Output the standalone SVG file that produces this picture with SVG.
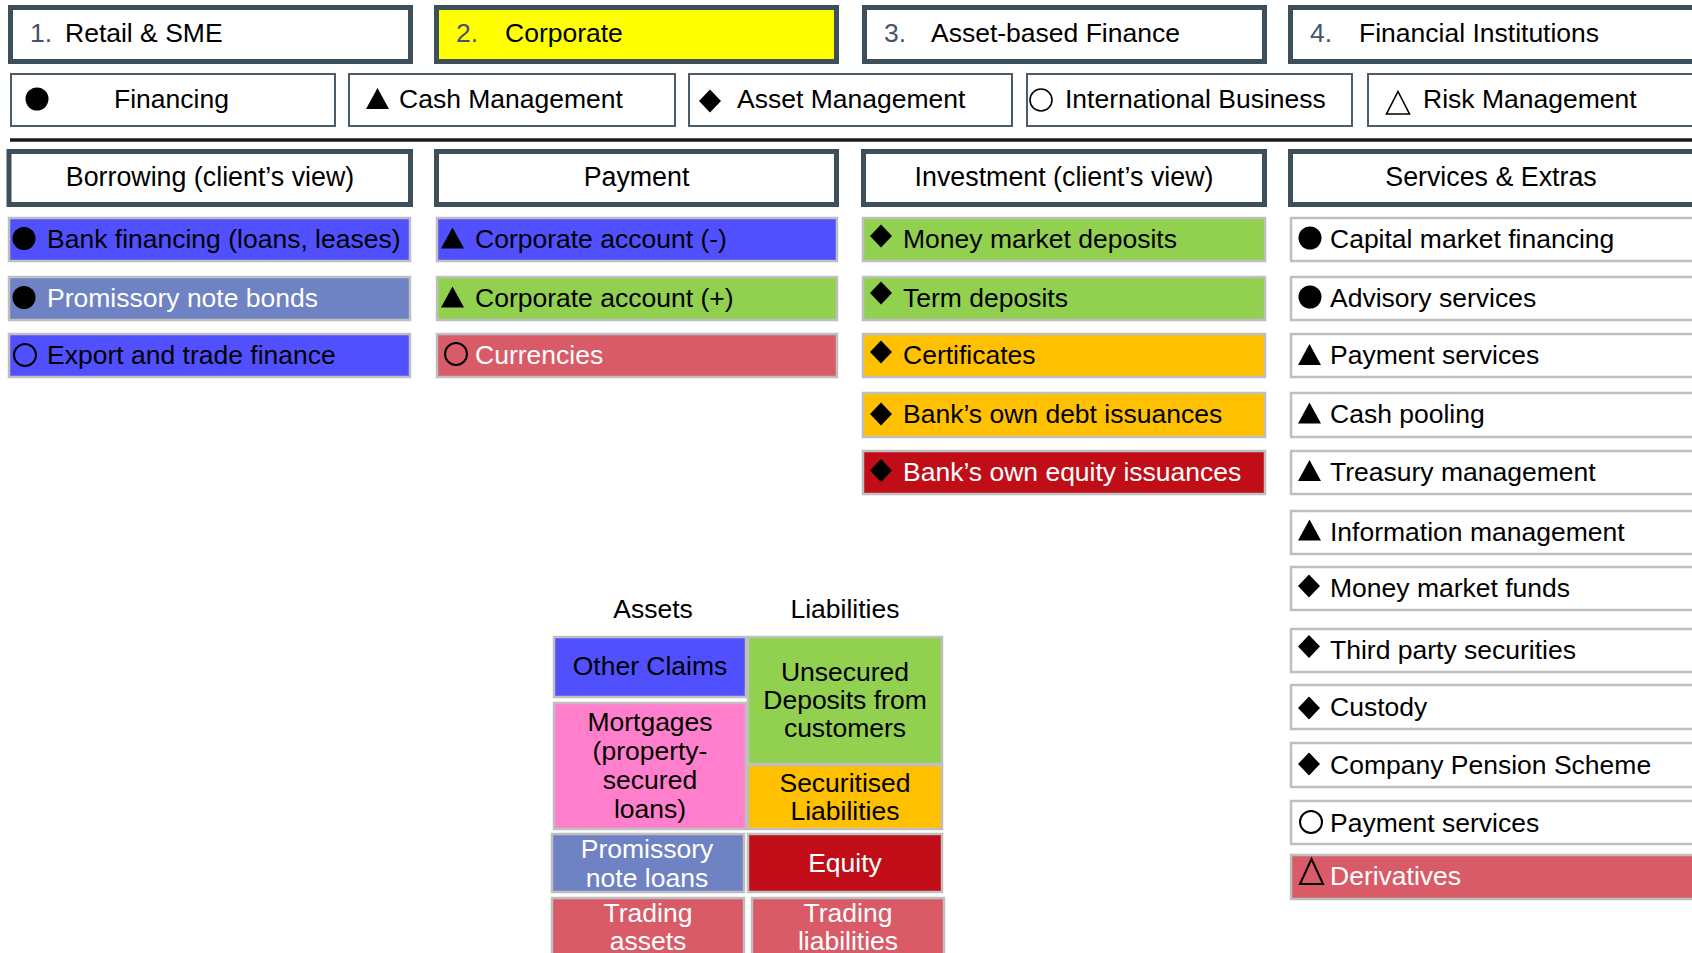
<svg xmlns="http://www.w3.org/2000/svg" width="1692" height="953" viewBox="0 0 1692 953">
  <style>
    text { font-family: "Liberation Sans", Arial, sans-serif; font-size: 26.5px; fill: #000; }
    .c { text-anchor: middle; }
    .num { fill: #44546a; }
    .w { fill: #fff; }
    .hdr { fill: #fff; stroke: #3e4f5c; stroke-width: 5; }
    .hdr-t { font-size: 26.8px; }
    .leg { fill: #fff; stroke: #4b5b69; stroke-width: 2; }
    .item { stroke: #bfbfbf; stroke-width: 2.5; }
    .white { fill: #fff; }
    .blue { fill: #5050ff; }
    .slate { fill: #6e82c4; }
    .green { fill: #92d050; }
    .amber { fill: #ffc000; }
    .crimson { fill: #c00d17; }
    .rose { fill: #d95b67; }
    .pink { fill: #ff7fcc; }
    .yellow { fill: #ffff00; }
  </style>
  <defs>
    <!-- category markers, centred on 0,0 -->
    <circle id="dot" r="11.5" fill="#000"/>
    <polygon id="tri" points="0,-10.5 11.5,10.5 -11.5,10.5" fill="#000"/>
    <polygon id="dia" points="0,-11.5 11,0 0,11.5 -11,0" fill="#000"/>
    <circle id="ring" r="11" fill="none" stroke="#000" stroke-width="2"/>
    <polygon id="otri" points="0,-12.5 11.5,12.5 -11.5,12.5" fill="none" stroke="#000" stroke-width="2"/>
  </defs>

  <rect width="1692" height="953" fill="#fff"/>

  <!-- client segments -->
  <g id="seg-retail">
    <rect class="hdr" x="10.5" y="7.5" width="400" height="54"/>
    <text class="num" x="30" y="42">1.</text>
    <text x="65" y="42">Retail &amp; SME</text>
  </g>
  <g id="seg-corporate">
    <rect class="hdr yellow" x="436.5" y="7.5" width="400" height="54"/>
    <text class="num" x="456" y="42">2.</text>
    <text x="505" y="42">Corporate</text>
  </g>
  <g id="seg-asset-based">
    <rect class="hdr" x="864.5" y="7.5" width="400" height="54"/>
    <text class="num" x="884" y="42">3.</text>
    <text x="931" y="42">Asset-based Finance</text>
  </g>
  <g id="seg-fi">
    <rect class="hdr" x="1290.5" y="7.5" width="420" height="54"/>
    <text class="num" x="1310" y="42">4.</text>
    <text x="1359" y="42">Financial Institutions</text>
  </g>

  <!-- legend of categories -->
  <g id="leg-financing">
    <rect class="leg" x="11" y="74" width="324" height="52"/>
    <use href="#dot" x="37" y="99"/>
    <text x="114" y="108">Financing</text>
  </g>
  <g id="leg-cash">
    <rect class="leg" x="349" y="74" width="326" height="52"/>
    <use href="#tri" x="377.5" y="98.5"/>
    <text x="399" y="108">Cash Management</text>
  </g>
  <g id="leg-asset">
    <rect class="leg" x="689" y="74" width="323" height="52"/>
    <use href="#dia" x="710" y="101"/>
    <text x="737" y="108">Asset Management</text>
  </g>
  <g id="leg-intl">
    <rect class="leg" x="1027" y="74" width="325" height="52"/>
    <circle cx="1041" cy="100" r="11" fill="none" stroke="#000" stroke-width="1.6"/>
    <text x="1065" y="108">International Business</text>
  </g>
  <g id="leg-risk">
    <rect class="leg" x="1368" y="74" width="340" height="52"/>
    <polygon points="1398,91.5 1409.5,114 1386.5,114" fill="none" stroke="#000" stroke-width="1.6"/>
    <text x="1423" y="108">Risk Management</text>
  </g>

  <g id="rule">
    <line x1="10" y1="140" x2="1692" y2="140" stroke="#1a1a1a" stroke-width="3.5"/>
  </g>

  <!-- column headers -->
  <g id="col-borrowing">
    <rect class="hdr" x="9" y="151.5" width="401.5" height="53"/>
    <text class="c hdr-t" x="210" y="186">Borrowing (client’s view)</text>
  </g>
  <g id="col-payment">
    <rect class="hdr" x="436.5" y="151.5" width="400" height="53"/>
    <text class="c hdr-t" x="636.5" y="186">Payment</text>
  </g>
  <g id="col-investment">
    <rect class="hdr" x="863.5" y="151.5" width="401" height="53"/>
    <text class="c hdr-t" x="1064" y="186">Investment (client’s view)</text>
  </g>
  <g id="col-services">
    <rect class="hdr" x="1290.5" y="151.5" width="420" height="53"/>
    <text class="c hdr-t" x="1491" y="186">Services &amp; Extras</text>
  </g>

  <!-- borrowing products -->
  <g id="b-bank-financing">
    <rect class="item blue" x="9" y="218" width="401" height="43"/>
    <use href="#dot" x="24" y="238.5"/>
    <text x="47" y="248">Bank financing (loans, leases)</text>
  </g>
  <g id="b-promissory">
    <rect class="item slate" x="9" y="277" width="401" height="43"/>
    <use href="#dot" x="24" y="297.5"/>
    <text class="w" x="47" y="307">Promissory note bonds</text>
  </g>
  <g id="b-export">
    <rect class="item blue" x="9" y="334" width="401" height="43"/>
    <use href="#ring" x="25" y="355"/>
    <text x="47" y="364">Export and trade finance</text>
  </g>

  <!-- payment products -->
  <g id="p-account-neg">
    <rect class="item blue" x="437" y="218" width="400" height="43"/>
    <use href="#tri" x="452.5" y="238"/>
    <text x="475" y="248">Corporate account (-)</text>
  </g>
  <g id="p-account-pos">
    <rect class="item green" x="437" y="277" width="400" height="43"/>
    <use href="#tri" x="452.5" y="297"/>
    <text x="475" y="307">Corporate account (+)</text>
  </g>
  <g id="p-currencies">
    <rect class="item rose" x="437" y="334" width="400" height="43"/>
    <use href="#ring" x="456" y="354"/>
    <text class="w" x="475" y="364">Currencies</text>
  </g>

  <!-- investment products -->
  <g id="i-mm-deposits">
    <rect class="item green" x="863" y="218" width="402" height="43"/>
    <use href="#dia" x="881" y="236"/>
    <text x="903" y="248">Money market deposits</text>
  </g>
  <g id="i-term">
    <rect class="item green" x="863" y="277" width="402" height="43"/>
    <use href="#dia" x="881" y="293"/>
    <text x="903" y="307">Term deposits</text>
  </g>
  <g id="i-certificates">
    <rect class="item amber" x="863" y="334" width="402" height="43"/>
    <use href="#dia" x="881" y="352"/>
    <text x="903" y="364">Certificates</text>
  </g>
  <g id="i-debt">
    <rect class="item amber" x="863" y="393" width="402" height="44"/>
    <use href="#dia" x="881" y="414"/>
    <text x="903" y="423">Bank’s own debt issuances</text>
  </g>
  <g id="i-equity">
    <rect class="item crimson" x="863" y="451" width="402" height="43"/>
    <use href="#dia" x="881" y="470.5"/>
    <text class="w" x="903" y="481">Bank’s own equity issuances</text>
  </g>

  <!-- services -->
  <g id="s-capital-market">
    <rect class="item white" x="1291" y="218" width="420" height="43"/>
    <use href="#dot" x="1310" y="238"/>
    <text x="1330" y="248">Capital market financing</text>
  </g>
  <g id="s-advisory">
    <rect class="item white" x="1291" y="277" width="420" height="43"/>
    <use href="#dot" x="1310" y="297"/>
    <text x="1330" y="307">Advisory services</text>
  </g>
  <g id="s-payment">
    <rect class="item white" x="1291" y="334" width="420" height="43"/>
    <use href="#tri" x="1309.5" y="354.5"/>
    <text x="1330" y="364">Payment services</text>
  </g>
  <g id="s-cash-pooling">
    <rect class="item white" x="1291" y="393" width="420" height="44"/>
    <use href="#tri" x="1309.5" y="413"/>
    <text x="1330" y="423">Cash pooling</text>
  </g>
  <g id="s-treasury">
    <rect class="item white" x="1291" y="451" width="420" height="43"/>
    <use href="#tri" x="1309.5" y="470.5"/>
    <text x="1330" y="481">Treasury management</text>
  </g>
  <g id="s-information">
    <rect class="item white" x="1291" y="511" width="420" height="43"/>
    <use href="#tri" x="1309.5" y="530"/>
    <text x="1330" y="541">Information management</text>
  </g>
  <g id="s-mm-funds">
    <rect class="item white" x="1291" y="567" width="420" height="43"/>
    <use href="#dia" x="1309" y="586"/>
    <text x="1330" y="597">Money market funds</text>
  </g>
  <g id="s-third-party">
    <rect class="item white" x="1291" y="629" width="420" height="43"/>
    <use href="#dia" x="1309" y="646.5"/>
    <text x="1330" y="659">Third party securities</text>
  </g>
  <g id="s-custody">
    <rect class="item white" x="1291" y="685" width="420" height="44"/>
    <use href="#dia" x="1309" y="708"/>
    <text x="1330" y="716">Custody</text>
  </g>
  <g id="s-pension">
    <rect class="item white" x="1291" y="743" width="420" height="44"/>
    <use href="#dia" x="1309" y="764"/>
    <text x="1330" y="774">Company Pension Scheme</text>
  </g>
  <g id="s-payment-intl">
    <rect class="item white" x="1291" y="801" width="420" height="43"/>
    <use href="#ring" x="1311" y="822"/>
    <text x="1330" y="832">Payment services</text>
  </g>
  <g id="s-derivatives">
    <rect class="item rose" x="1291" y="855" width="420" height="44"/>
    <use href="#otri" x="1311.5" y="871.5"/>
    <text class="w" x="1330" y="885">Derivatives</text>
  </g>

  <!-- simplified bank balance sheet -->
  <g id="bs-titles">
    <text class="c" x="653" y="618">Assets</text>
    <text class="c" x="845" y="618">Liabilities</text>
  </g>
  <g id="bs-other-claims">
    <rect class="item blue" x="554" y="637" width="192" height="60"/>
    <text class="c" x="650" y="675">Other Claims</text>
  </g>
  <g id="bs-mortgages">
    <rect class="item pink" x="554" y="703" width="192" height="126"/>
    <text class="c" x="650" y="731">Mortgages</text>
    <text class="c" x="650" y="760">(property-</text>
    <text class="c" x="650" y="789">secured</text>
    <text class="c" x="650" y="818">loans)</text>
  </g>
  <g id="bs-deposits">
    <rect class="item green" x="748" y="637" width="194" height="127"/>
    <text class="c" x="845" y="681">Unsecured</text>
    <text class="c" x="845" y="709">Deposits from</text>
    <text class="c" x="845" y="737">customers</text>
  </g>
  <g id="bs-securitised">
    <rect class="item amber" x="748" y="765" width="194" height="64"/>
    <text class="c" x="845" y="792">Securitised</text>
    <text class="c" x="845" y="820">Liabilities</text>
  </g>
  <g id="bs-promissory">
    <rect class="item slate" x="552" y="834" width="192" height="58"/>
    <text class="c w" x="647" y="858">Promissory</text>
    <text class="c w" x="647" y="887">note loans</text>
  </g>
  <g id="bs-equity">
    <rect class="item crimson" x="748" y="834" width="194" height="58"/>
    <text class="c w" x="845" y="872">Equity</text>
  </g>
  <g id="bs-trading-assets">
    <rect class="item rose" x="552" y="898" width="192" height="70"/>
    <text class="c w" x="648" y="922">Trading</text>
    <text class="c w" x="648" y="950">assets</text>
  </g>
  <g id="bs-trading-liabilities">
    <rect class="item rose" x="752" y="898" width="192" height="70"/>
    <text class="c w" x="848" y="922">Trading</text>
    <text class="c w" x="848" y="950">liabilities</text>
  </g>
</svg>
